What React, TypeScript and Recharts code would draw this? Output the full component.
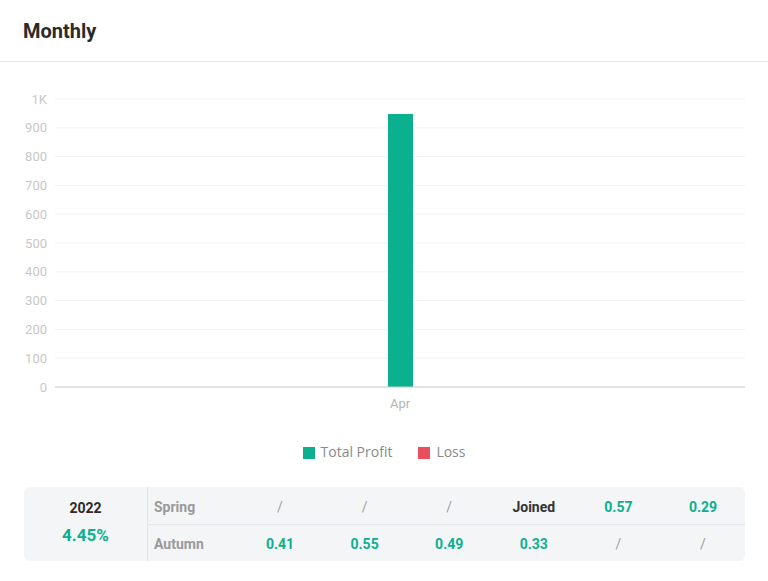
import { BarChart, Bar, XAxis, YAxis, CartesianGrid, Legend } from "recharts"

const months = ["Apr"]
const totalProfit = [948]
const loss = [0]
const yTicks = [0, 100, 200, 300, 400, 500, 600, 700, 800, 900, 1000]

const yearLabel = "2022"
const yearReturn = "4.45%"
const springValues = ["/", "/", "/", "Joined", "0.57", "0.29"]
const autumnValues = ["0.41", "0.55", "0.49", "0.33", "/", "/"]

const GREEN = "#0bb08e"
const RED = "#e94f5e"
const tickFont = "Roboto, 'DejaVu Sans', sans-serif"
const legendOrder = ["Total Profit", "Loss"]

const data = months.map((m, i) => ({ month: m, profit: totalProfit[i], loss: loss[i] }))

const fmtY = (v: number) => (v >= 1000 ? `${v / 1000}K` : `${v}`)

function cellColor(v: string) {
  if (v === "/") return "#a0a0a0"
  if (v === "Joined") return "#333"
  return GREEN
}

function TableRow({ label, values, top }: { label: string; values: string[]; top: boolean }) {
  return (
    <div
      style={{
        position: "relative",
        height: 37,
        borderBottom: top ? "1px solid #e3e5e8" : "none",
      }}
    >
      <span
        style={{
          position: "absolute",
          left: 6,
          top: top ? 2 : 1,
          lineHeight: "37px",
          color: "#9a9a9a",
          fontWeight: 700,
          fontSize: 14,
        }}
      >
        {label}
      </span>
      {values.map((v, i) => (
        <span
          key={i}
          style={{
            position: "absolute",
            left: 132 + i * 84.6 - 40,
            top: top ? 2 : 1,
            width: 80,
            textAlign: "center",
            lineHeight: "37px",
            color: cellColor(v),
            fontWeight: v === "/" ? 400 : 700,
            fontSize: 14,
          }}
        >
          {v}
        </span>
      ))}
    </div>
  )
}

export default function App() {
  return (
    <div
      style={{
        position: "absolute",
        left: 0,
        top: 0,
        width: 768,
        height: 581,
        background: "#fff",
        overflow: "hidden",
      }}
    >
      <div
        style={{
          position: "absolute",
          left: 23,
          top: 19,
          fontFamily: "Roboto, sans-serif",
          fontWeight: 700,
          fontSize: 20,
          color: "#2b2b2b",
        }}
      >
        Monthly
      </div>
      <div style={{ position: "absolute", left: 0, top: 61, width: 768, height: 1, background: "#e6e6e6" }} />

      <div style={{ position: "absolute", left: 0, top: 80 }}>
        <BarChart
          width={768}
          height={400}
          data={data}
          margin={{ top: 19, right: 23, bottom: 63, left: 0 }}
          barCategoryGap={0}
          barGap={0}
        >
          <CartesianGrid vertical={false} stroke="#f2f2f2" />
          <XAxis
            dataKey="month"
            tickLine={false}
            tickMargin={6}
            axisLine={{ stroke: "#cccccc" }}
            tick={{ fill: "#b5b5b5", fontSize: 13, fontFamily: tickFont }}
            height={30}
          />
          <YAxis
            width={55}
            domain={[0, 1000]}
            ticks={yTicks}
            tickFormatter={fmtY}
            axisLine={false}
            tickLine={false}
            tick={{ fill: "#c8c8c8", fontSize: 13, fontFamily: tickFont }}
          />
          <Legend
            verticalAlign="middle"
            align="center"
            layout="horizontal"
            iconType="square"
            iconSize={12}
            itemSorter={(item: any) => legendOrder.indexOf(item.value)}
            wrapperStyle={{ top: 362, left: 5, width: 768, fontFamily: "'Open Sans', sans-serif", fontSize: 14 }}
            formatter={(v: string) => (
              <span
                style={{
                  color: "#8a8a8a",
                  marginLeft: 2,
                  marginRight: legendOrder.indexOf(v) === 0 ? 16 : 0,
                }}
              >
                {v}
              </span>
            )}
          />
          <Bar dataKey="profit" name="Total Profit" fill={GREEN} barSize={25} isAnimationActive={false} />
          <Bar dataKey="loss" name="Loss" fill={RED} barSize={0} isAnimationActive={false} />
        </BarChart>
      </div>

      <div
        style={{
          position: "absolute",
          left: 24,
          top: 487,
          width: 721,
          height: 74,
          background: "#f4f5f7",
          borderRadius: 6,
          fontFamily: tickFont,
          display: "flex",
        }}
      >
        <div
          style={{
            width: 123,
            borderRight: "1px solid #e0e2e5",
            textAlign: "center",
          }}
        >
          <div style={{ marginTop: 13, fontSize: 14, fontWeight: 700, color: "#2b2b2b" }}>{yearLabel}</div>
          <div style={{ marginTop: 9, fontSize: 17, fontWeight: 700, color: GREEN }}>{yearReturn}</div>
        </div>
        <div style={{ flex: 1, position: "relative" }}>
          <TableRow label="Spring" values={springValues} top={true} />
          <TableRow label="Autumn" values={autumnValues} top={false} />
        </div>
      </div>
    </div>
  )
}
